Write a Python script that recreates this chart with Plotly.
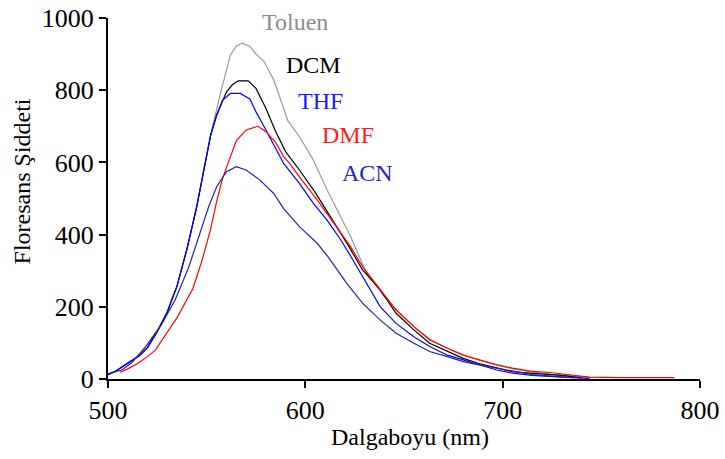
import plotly.graph_objects as go

# Fluorescence emission spectra in different solvents
wl_toluen = [500, 504, 508, 512, 516, 520, 525, 530, 535, 540, 545, 549, 553, 557, 562, 565, 568, 572, 575, 579,
             584, 589, 591, 597, 604, 611, 617, 623, 631, 640, 648, 656, 664, 672, 680, 688, 697, 705, 714, 725,
             735, 745]
int_toluen = [12, 22, 37, 50, 65, 87, 132, 185, 258, 360, 478, 595, 700, 791, 897, 922, 930, 921, 900, 880,
              828, 750, 717, 671, 607, 524, 459, 394, 293, 228, 182, 140, 108, 85, 66, 53, 39, 28, 20, 13,
              8, 4]

wl_dcm = [500, 504, 508, 512, 516, 520, 525, 530, 535, 540, 545, 549, 552, 555, 560, 563, 566, 571, 575, 580,
          585, 590, 597, 605, 614, 622, 629, 638, 646, 655, 663, 672, 680, 688, 697, 705, 714, 725, 730, 740]
int_dcm = [12, 22, 37, 50, 65, 87, 132, 185, 258, 360, 478, 590, 675, 730, 795, 815, 826, 826, 805, 750,
           685, 630, 579, 517, 440, 368, 302, 247, 182, 136, 99, 76, 57, 43, 30, 20, 16, 12, 10, 3]

wl_thf = [500, 504, 508, 512, 516, 520, 525, 530, 535, 540, 545, 549, 552, 555, 558, 562, 567, 572, 575, 579,
          584, 589, 597, 604, 611, 618, 623, 629, 638, 646, 655, 663, 672, 680, 688, 697, 705, 715, 730, 744]
int_thf = [12, 22, 37, 50, 65, 87, 132, 185, 258, 360, 478, 590, 675, 730, 772, 791, 791, 775, 740, 700,
           650, 597, 542, 487, 440, 385, 340, 283, 200, 154, 117, 90, 66, 53, 39, 25, 16, 10, 5, 2]

wl_dmf = [506, 510, 515, 520, 524, 529, 535, 540, 543, 548, 552, 555, 558, 561, 565, 570, 576, 580, 585, 589,
          592, 597, 606, 614, 623, 629, 638, 646, 655, 663, 672, 680, 688, 697, 705, 714, 724, 732, 744, 760,
          787]
int_dmf = [18, 28, 43, 62, 80, 122, 170, 220, 250, 335, 415, 490, 555, 600, 660, 690, 700, 685, 655, 616,
           597, 560, 496, 435, 366, 311, 247, 191, 145, 108, 85, 66, 53, 39, 30, 22, 18, 13, 5, 4,
           4]

wl_acn = [500, 507, 512, 519, 527, 534, 541, 547, 551, 555, 560, 565, 570, 577, 584, 589, 597, 606, 612, 621,
          629, 638, 646, 655, 663, 672, 680, 688, 697, 705, 715, 725, 736]
int_acn = [15, 25, 45, 89, 150, 219, 311, 413, 477, 532, 574, 588, 579, 551, 514, 472, 422, 376, 335, 265,
           210, 163, 127, 99, 76, 62, 48, 39, 30, 20, 12, 8, 4]

series = [
    ("Toluen", wl_toluen, int_toluen, "#9a9a9a"),
    ("DCM", wl_dcm, int_dcm, "#000000"),
    ("THF", wl_thf, int_thf, "#0000ff"),
    ("DMF", wl_dmf, int_dmf, "#ff0000"),
    ("ACN", wl_acn, int_acn, "#25259a"),
]

# label positions (wavelength, intensity) and text colours
label_pos = {
    "Toluen": (594.8, 988, "#8c8c8c"),
    "DCM": (603.9, 871, "#000000"),
    "THF": (607.9, 769, "#1a1aff"),
    "DMF": (621.8, 676, "#ff2020"),
    "ACN": (631.5, 571, "#2a2aa8"),
}

font_family = "Liberation Serif"

fig = go.Figure()
for name, wl, inten, color in series:
    fig.add_trace(go.Scatter(x=wl, y=inten, mode="lines", name=name,
                             line=dict(color=color, width=1.2)))

for name, (lx, ly, lc) in label_pos.items():
    fig.add_annotation(x=lx, y=ly, xref="x", yref="y", text=name, showarrow=False,
                       font=dict(family=font_family, size=24, color=lc),
                       xanchor="center", yanchor="middle")

fig.add_annotation(x=0.51, y=-0.161, xref="paper", yref="paper", text="Dalgaboyu (nm)",
                   showarrow=False, font=dict(family=font_family, size=24, color="#000000"),
                   xanchor="center", yanchor="middle")
fig.add_annotation(x=-0.146, y=0.546, xref="paper", yref="paper", text="Floresans Şiddeti",
                   showarrow=False, textangle=-90,
                   font=dict(family=font_family, size=24, color="#000000"),
                   xanchor="center", yanchor="middle")

axis_common = dict(showgrid=False, zeroline=False, showline=True, linecolor="#000000", linewidth=2,
                   ticks="outside", tickcolor="#000000", tickwidth=2, automargin=False,
                   tickfont=dict(family=font_family, size=26, color="#000000"))

fig.update_layout(
    width=725, height=459,
    margin=dict(l=108, r=25, t=18, b=80),
    paper_bgcolor="#ffffff", plot_bgcolor="#ffffff",
    showlegend=False,
    xaxis=dict(range=[500, 800], tickvals=[500, 600, 700, 800], ticklen=7, **axis_common),
    yaxis=dict(range=[0, 1000], tickvals=[0, 200, 400, 600, 800, 1000], ticklen=7, **axis_common),
)

fig.write_html("out.html")
